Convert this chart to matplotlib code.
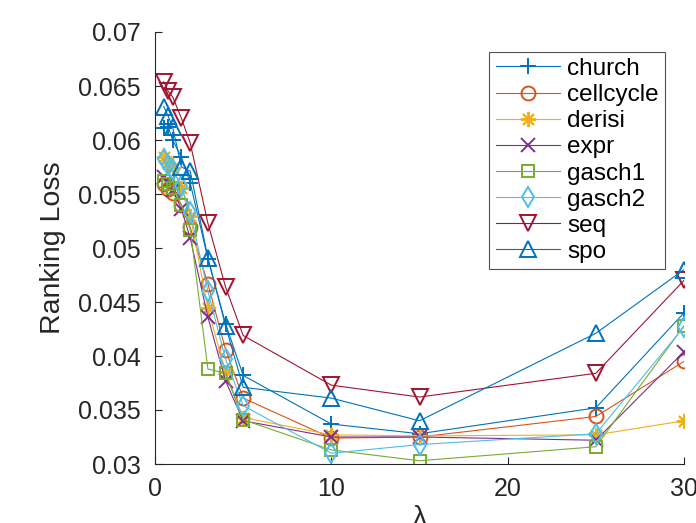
import matplotlib.pyplot as plt

plt.rcParams['font.family'] = ['Liberation Sans', 'DejaVu Sans']

lam = [0.5, 0.75, 1, 1.5, 2, 3, 4, 5, 10, 15, 25, 30]

church = [0.0611, 0.0612, 0.0600, 0.0584, 0.0560, 0.0490, 0.0430, 0.0382, 0.0337, 0.0328, 0.0352, 0.0440]
cellcycle = [0.0559, 0.0555, 0.0551, 0.0540, 0.0519, 0.0467, 0.0406, 0.0361, 0.0324, 0.0325, 0.0344, 0.0395]
derisi = [0.0584, 0.0579, 0.0574, 0.0556, 0.0530, 0.0444, 0.0385, 0.0343, 0.0327, 0.0326, 0.0327, 0.0340]
expr = [0.0566, 0.0560, 0.0554, 0.0536, 0.0509, 0.0436, 0.0377, 0.0340, 0.0325, 0.0325, 0.0322, 0.0404]
gasch1 = [0.0562, 0.0559, 0.0556, 0.0540, 0.0517, 0.0388, 0.0384, 0.0341, 0.0313, 0.0303, 0.0316, 0.0428]
gasch2 = [0.0582, 0.0577, 0.0572, 0.0557, 0.0533, 0.0460, 0.0397, 0.0354, 0.0310, 0.0318, 0.0328, 0.0427]
seq = [0.0654, 0.0645, 0.0640, 0.0620, 0.0597, 0.0523, 0.0464, 0.0419, 0.0373, 0.0362, 0.0384, 0.0470]
spo = [0.0631, 0.0622, 0.0612, 0.0575, 0.0571, 0.0491, 0.0428, 0.0371, 0.0361, 0.0340, 0.0421, 0.0480]

names = ['church', 'cellcycle', 'derisi', 'expr', 'gasch1', 'gasch2', 'seq', 'spo']
series = [church, cellcycle, derisi, expr, gasch1, gasch2, seq, spo]
colors = ['#0072BD', '#D95319', '#EDB120', '#7E2F8E', '#77AC30', '#4DBEEE', '#A2142F', '#0072BD']
# (8, 2, 0) is an eight-armed asterisk, like MATLAB's '*'
markers = ['+', 'o', (8, 2, 0), 'x', 's', 'd', 'v', '^']
sizes = [12, 10, 11, 10, 8, 10, 11, 11]

fig = plt.figure(figsize=(6.96, 5.23), dpi=100)
ax = fig.add_axes([155/696, 59/523, 529/696, 432/523])

for y, name, c, m, s in zip(series, names, colors, markers, sizes):
    ax.plot(lam, y, color=c, marker=m, markersize=s, linewidth=0.8,
            markerfacecolor='none', markeredgewidth=1.4, label=name)

ax.set_xlim(0, 30)
ax.set_ylim(0.03, 0.07)
ax.set_xticks([0, 10, 20, 30])
ax.set_yticks([0.03, 0.035, 0.04, 0.045, 0.05, 0.055, 0.06, 0.065, 0.07])
ax.set_yticklabels(['0.03', '0.035', '0.04', '0.045', '0.05', '0.055', '0.06', '0.065', '0.07'])

ax.spines['top'].set_visible(False)
ax.spines['right'].set_visible(False)
for sp in ['left', 'bottom']:
    ax.spines[sp].set_color('#262626')
    ax.spines[sp].set_linewidth(0.8)
ax.tick_params(direction='in', length=5, width=0.8, colors='#262626',
               labelsize=18, labelcolor='#262626')
ax.tick_params(axis='y', pad=10)
ax.tick_params(axis='x', pad=9)

ax.set_xlabel('λ', fontsize=20, color='#262626', labelpad=3)
ax.set_ylabel('Ranking Loss', fontsize=20.5, color='#262626', labelpad=9)

leg = ax.legend(loc='upper right', bbox_to_anchor=(0.964, 0.954), fontsize=17.5,
                frameon=True, fancybox=False, edgecolor='#262626',
                handlelength=2.65, handletextpad=0.3, labelspacing=0.17,
                borderpad=0.25, borderaxespad=0)
leg.get_frame().set_linewidth(0.8)

fig.savefig('out.png', dpi=100)
